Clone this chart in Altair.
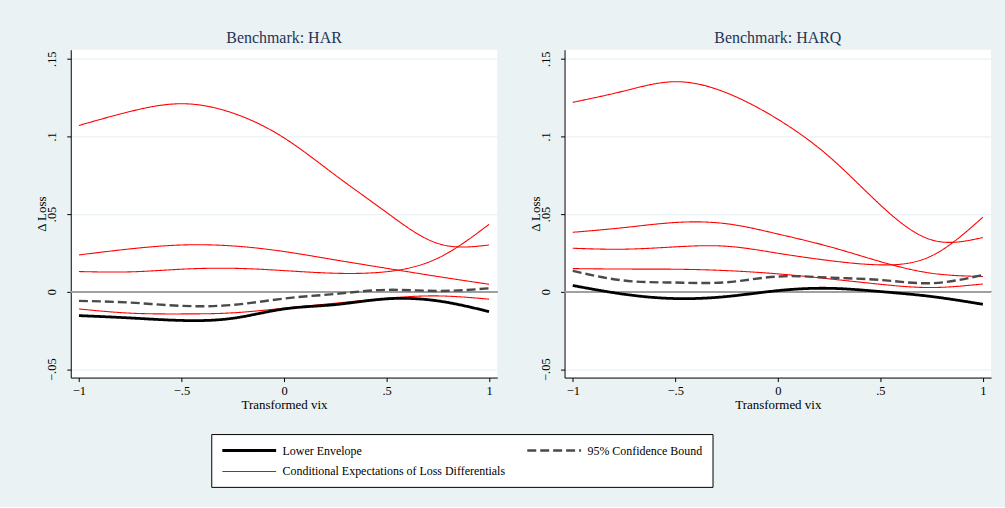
import altair as alt
import pandas as pd

# ---------------- data ----------------
X = [-1, -0.75, -0.5, -0.25, 0, 0.25, 0.5, 0.75, 1]

SERIES = ["Lower Envelope", "95% Confidence Bound",
          "Conditional Expectations of Loss Differentials"]

har_cond_a = [0.107, 0.116, 0.121, 0.115, 0.099, 0.075, 0.051, 0.031, 0.030]
har_cond_b = [0.0236, 0.0275, 0.030, 0.0294, 0.0258, 0.0204, 0.015, 0.0097, 0.0047]
har_cond_c = [0.0129, 0.0127, 0.0144, 0.015, 0.0135, 0.0118, 0.0128, 0.0215, 0.0433]
har_cond_d = [-0.0112, -0.0139, -0.0144, -0.0137, -0.0107, -0.0075, -0.0043, -0.0028, -0.0049]
har_env = [-0.0155, -0.0170, -0.0186, -0.0172, -0.0112, -0.0084, -0.0047, -0.0060, -0.0129]
har_cb = [-0.0060, -0.0071, -0.0092, -0.0086, -0.0045, -0.0015, 0.0011, 0.0004, 0.0021]

harq_cond_a = [0.1219, 0.1292, 0.1352, 0.128, 0.111, 0.087, 0.0558, 0.0333, 0.0348]
harq_cond_b = [0.0382, 0.0412, 0.0445, 0.0437, 0.0371, 0.029, 0.0193, 0.0118, 0.0097]
harq_cond_c = [0.0279, 0.0273, 0.0288, 0.0292, 0.0247, 0.020, 0.0172, 0.023, 0.0479]
harq_cond_d = [0.0148, 0.0145, 0.0144, 0.0135, 0.0114, 0.0082, 0.0047, 0.0026, 0.0049]
harq_env = [0.0039, -0.0017, -0.0045, -0.0032, 0.0006, 0.0021, 0.0, -0.0032, -0.0082]
harq_cb = [0.0133, 0.0071, 0.0058, 0.0060, 0.0097, 0.0090, 0.0075, 0.0054, 0.0107]

PANELS = {
    "HAR": {"cond": [har_cond_a, har_cond_b, har_cond_c, har_cond_d],
            "env": har_env, "cb": har_cb},
    "HARQ": {"cond": [harq_cond_a, harq_cond_b, harq_cond_c, harq_cond_d],
             "env": harq_env, "cb": harq_cb},
}

rows = []
for pname, p in PANELS.items():
    for i, ys in enumerate(p["cond"]):
        for x, y in zip(X, ys):
            rows.append({"panel": pname, "series": SERIES[2], "curve": f"c{i}", "x": x, "y": y})
    for x, y in zip(X, p["env"]):
        rows.append({"panel": pname, "series": SERIES[0], "curve": "env", "x": x, "y": y})
    for x, y in zip(X, p["cb"]):
        rows.append({"panel": pname, "series": SERIES[1], "curve": "cb", "x": x, "y": y})
df = pd.DataFrame(rows)

FONT = "Liberation Serif"
LABEL_EXPR = "datum.value == 0 ? '0' : replace(format(datum.value, '~g'), '0.', '.')"


def panel(name):
    d = df[df["panel"] == name]
    lines = alt.Chart(d).mark_line(interpolate="natural").encode(
        x=alt.X("x:Q",
                scale=alt.Scale(domain=[-1.04, 1.04], nice=False, zero=False),
                axis=alt.Axis(values=[-1, -0.5, 0, 0.5, 1], title="Transformed vix",
                              grid=False, labelExpr=LABEL_EXPR, labelPadding=3,
                              titlePadding=2)),
        y=alt.Y("y:Q",
                scale=alt.Scale(domain=[-0.0554, 0.1558], nice=False, zero=False),
                axis=alt.Axis(values=[-0.05, 0, 0.05, 0.1, 0.15], title="Δ Loss",
                              grid=True, gridColor="#EAF2F3", gridWidth=1.2,
                              labelExpr=LABEL_EXPR, labelAngle=270,
                              labelAlign="center", labelBaseline="alphabetic",
                              labelPadding=11, titlePadding=-3)),
        color=alt.Color("series:N",
                        scale=alt.Scale(domain=SERIES, range=["#000000", "#4a4a4a", "#ff0000"]),
                        legend=alt.Legend(title=None, orient="none", legendX=141, legendY=385.7,
                                          columns=2, direction="horizontal",
                                          symbolType="M-1,0H9", symbolSize=116.6,
                                          labelFont=FONT, labelFontSize=12, labelColor="black",
                                          labelOffset=48, padding=9.5, columnPadding=16,
                                          rowPadding=9, strokeColor="black",
                                          fillColor="white", labelLimit=400)),
        strokeDash=alt.StrokeDash("series:N",
                                  scale=alt.Scale(domain=SERIES, range=[[1, 0], [9, 4], [1, 0]]),
                                  legend=alt.Legend(title=None)),
        strokeWidth=alt.StrokeWidth("series:N",
                                    scale=alt.Scale(type="ordinal", domain=SERIES,
                                                    range=[2.8, 2.4, 1.1]),
                                    legend=alt.Legend(title=None)),
        detail="curve:N",
    )
    zero = alt.Chart(d).mark_rule(color="#a0a0a0", strokeWidth=1).encode(y=alt.datum(0))
    return alt.layer(zero, lines).properties(
        width=428, height=329,
        title=alt.TitleParams(f"Benchmark: {name}", font=FONT, fontSize=16,
                              fontWeight="normal", color="#1f3457", offset=3.3,
                              anchor="middle"),
    )


chart = alt.hconcat(panel("HAR"), panel("HARQ"), spacing=30.5).properties(
    background="#EAF2F3",
    padding={"left": 35, "top": 29, "right": 13.5, "bottom": 18},
).configure_view(
    stroke=None, fill="white"
).configure_axis(
    labelFont=FONT, labelFontSize=12.5, labelColor="black",
    titleFont=FONT, titleFontSize=13, titleFontWeight="normal", titleColor="black",
    domainColor="black", domainWidth=1, tickColor="black", tickSize=4, tickWidth=1,
)

chart.save("out.html", embed_options={"renderer": "svg", "actions": False})
